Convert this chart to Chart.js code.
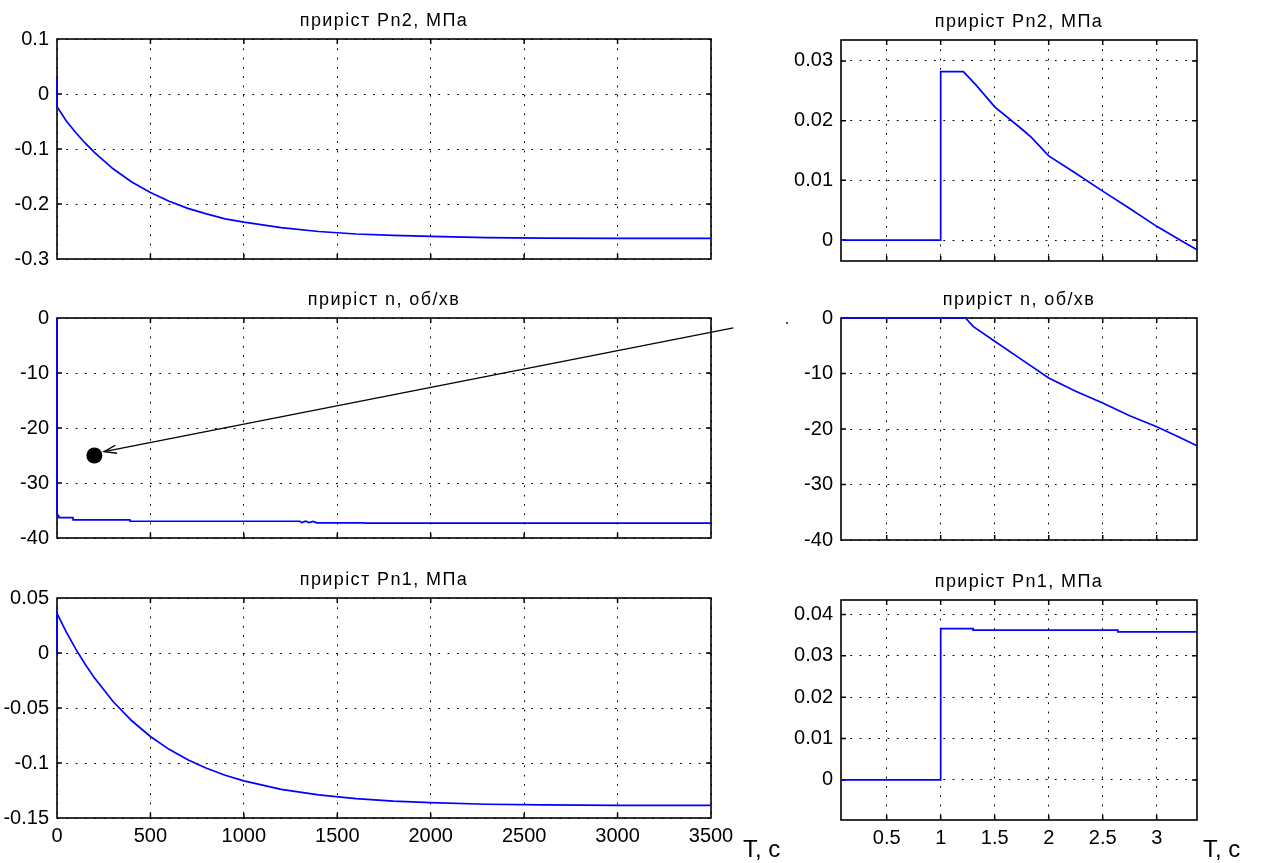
<!DOCTYPE html>
<html lang="uk">
<head>
<meta charset="utf-8">
<title>приріст Pn2, n, Pn1</title>
<script src="https://cdn.jsdelivr.net/npm/chart.js@4.4.1/dist/chart.umd.min.js"></script>
<style>
  html, body { margin: 0; padding: 0; background: #fff; }
  #page { position: relative; width: 1269px; height: 863px; overflow: hidden; background: #fff; }
  #page canvas { position: absolute; }
  .axis-name { position: absolute; font: 24px "Liberation Sans", Arial, sans-serif; line-height: 24px; color: #000; white-space: nowrap; }
  .speck { position: absolute; width: 2px; height: 2px; background: #555; }
</style>
</head>
<body>
<div id="page">
  <canvas id="pn2LongChart"></canvas>
  <canvas id="nLongChart"></canvas>
  <canvas id="pn1LongChart"></canvas>
  <canvas id="pn2ShortChart"></canvas>
  <canvas id="nShortChart"></canvas>
  <canvas id="pn1ShortChart"></canvas>
  <div class="axis-name" style="left:743px; top:837px">T, c</div>
  <div class="axis-name" style="left:1203px; top:837px">T, c</div>
  <div class="speck" style="left:786px; top:322px"></div>
</div>
<script>
  // --- long run (0..3500 s) ---
  const tLong = [0, 0, 50, 100, 150, 200, 300, 400, 500, 600, 700, 800, 900, 1000, 1200, 1400, 1600, 1800, 2000, 2300, 2600, 3000, 3500];
  const pn2Long = [0.03, -0.023, -0.049, -0.070, -0.089, -0.106, -0.136, -0.160, -0.179, -0.195, -0.208, -0.218, -0.227, -0.233, -0.243, -0.250, -0.2545, -0.257, -0.259, -0.261, -0.262, -0.2625, -0.2625];
  const pn1Long = [0, 0.036, 0.019, 0.0037, -0.010, -0.0226, -0.0441, -0.0616, -0.0759, -0.0876, -0.0971, -0.1048, -0.1111, -0.1163, -0.1239, -0.129, -0.1324, -0.1346, -0.136, -0.1375, -0.138, -0.1385, -0.1385];

  const tN = [0, 0, 8, 9, 85, 86, 390, 391, 1300, 1310, 1330, 1350, 1370, 1390, 1420, 1640, 1650, 3500];
  const nLong = [0, -35.7, -35.9, -36.3, -36.3, -36.7, -36.7, -36.95, -36.95, -37.2, -36.95, -37.2, -37.0, -37.25, -37.25, -37.25, -37.3, -37.3];

  // arrow and marker drawn on the n plot
  const arrowT = [3620, 252];
  const arrowN = [-1.8, -24.3];
  const markT = [200];
  const markN = [-25];

  // --- short run (first seconds) ---
  const tPn2Short = [0.077, 1.0, 1.0, 1.21, 1.33, 1.5, 1.75, 1.84, 2.0, 2.25, 2.5, 2.75, 3.0, 3.2, 3.373];
  const pn2Short = [0, 0, 0.0282, 0.0282, 0.0259, 0.0223, 0.0186, 0.0172, 0.0141, 0.0112, 0.0082, 0.0053, 0.0023, 0.0002, -0.0016];

  const tNShort = [0.077, 1.23, 1.3, 1.5, 1.75, 2.0, 2.25, 2.5, 2.75, 3.0, 3.2, 3.373];
  const nShort = [0, 0, -1.5, -4.2, -7.5, -10.8, -13.2, -15.3, -17.6, -19.6, -21.4, -23.0];

  const tPn1Short = [0.077, 1.0, 1.0, 1.3, 1.3, 2.64, 2.64, 3.373];
  const pn1Short = [0, 0, 0.0366, 0.0366, 0.0362, 0.0362, 0.0358, 0.0358];

  // --- tick labels ---
  const xTicksLong = [0, 500, 1000, 1500, 2000, 2500, 3000, 3500];
  const xTicksShort = [0.5, 1, 1.5, 2, 2.5, 3];
  const yTicksPn2Long = [-0.3, -0.2, -0.1, 0, 0.1];
  const yTicksN = [-40, -30, -20, -10, 0];
  const yTicksPn1Long = [-0.15, -0.1, -0.05, 0, 0.05];
  const yTicksPn2Short = [0, 0.01, 0.02, 0.03];
  const yTicksPn1Short = [0, 0.01, 0.02, 0.03, 0.04];

  const FONT = '"Liberation Sans", Arial, Helvetica, sans-serif';
  const BLUE = "#0000ff";

  function pts(xs, ys) {
    return xs.map((x, i) => ({ x, y: ys[i] }));
  }
  function fmt(v) {
    return String(Math.round(v * 10000) / 10000);
  }

  // title above each plot, centred on the plot area
  const panelTitle = {
    id: "panelTitle",
    afterDraw(chart, args, opts) {
      if (!opts.text) return;
      const { ctx, chartArea: a } = chart;
      ctx.save();
      ctx.font = "18px " + FONT;
      ctx.letterSpacing = "1.4px";
      ctx.fillStyle = "#000";
      ctx.textAlign = "center";
      ctx.textBaseline = "alphabetic";
      ctx.fillText(opts.text, (a.left + a.right) / 2, a.top - 13);
      ctx.restore();
    },
  };

  // box round the plot + small inward ticks on all four sides
  // (drawn under the curves, like the original, so the jumps at the edge stay visible)
  const matlabBox = {
    id: "matlabBox",
    beforeDatasetsDraw(chart) {
      const { ctx, chartArea: a, scales } = chart;
      ctx.save();
      ctx.strokeStyle = "#000";
      ctx.lineWidth = 1.5;
      ctx.beginPath();
      for (const t of scales.x.ticks) {
        const px = scales.x.getPixelForValue(t.value);
        if (px - a.left < 2 || a.right - px < 2) continue;
        ctx.moveTo(px, a.top); ctx.lineTo(px, a.top + 5);
        ctx.moveTo(px, a.bottom); ctx.lineTo(px, a.bottom - 5);
      }
      for (const t of scales.y.ticks) {
        const py = scales.y.getPixelForValue(t.value);
        if (py - a.top < 2 || a.bottom - py < 2) continue;
        ctx.moveTo(a.left, py); ctx.lineTo(a.left + 5, py);
        ctx.moveTo(a.right, py); ctx.lineTo(a.right - 5, py);
      }
      ctx.stroke();
      ctx.lineWidth = 1.6;
      ctx.strokeRect(a.left, a.top, a.width, a.height);
      ctx.restore();
    },
  };

  // open arrow head at the end of a line dataset
  const arrowHead = {
    id: "arrowHead",
    afterDatasetsDraw(chart, args, opts) {
      if (opts.dataset == null) return;
      const meta = chart.getDatasetMeta(opts.dataset);
      const [p0, p1] = meta.data;
      if (!p0 || !p1) return;
      const ang = Math.atan2(p1.y - p0.y, p1.x - p0.x);
      const len = 13, spread = 0.32;
      const { ctx } = chart;
      ctx.save();
      ctx.strokeStyle = "#000";
      ctx.lineWidth = 1.4;
      ctx.beginPath();
      ctx.moveTo(p1.x - len * Math.cos(ang - spread), p1.y - len * Math.sin(ang - spread));
      ctx.lineTo(p1.x, p1.y);
      ctx.lineTo(p1.x - len * Math.cos(ang + spread), p1.y - len * Math.sin(ang + spread));
      ctx.stroke();
      ctx.restore();
    },
  };

  function axis(min, max, tickVals, size, isX, show) {
    return {
      type: "linear",
      min,
      max,
      afterBuildTicks: (s) => { s.ticks = tickVals.map((v) => ({ value: v })); },
      afterFit: (s) => {
        if (isX) s.height = size; else s.width = size;
        s.paddingLeft = 0; s.paddingRight = 0; s.paddingTop = 0; s.paddingBottom = 0;
      },
      ticks: {
        display: show,
        color: "#000",
        font: { family: FONT, size: 20 },
        padding: isX ? 6 : 8,
        maxRotation: 0,
        autoSkip: false,
        callback: (v) => fmt(v),
      },
      grid: { color: "#000", lineWidth: 1, drawTicks: false },
      border: { display: false, dash: [1.8, 7.5] },
    };
  }

  // curves stay inside their ranges, so no clipping: the jumps at t = 0 sit on the left edge
  function blueLine(xs, ys) {
    return { data: pts(xs, ys), borderColor: BLUE, borderWidth: 1.7, pointRadius: 0, tension: 0, fill: false, clip: false };
  }

  // box: plot area in page pixels; yw: room for y labels; rp: room on the right
  function panel(id, box, title, xCfg, yCfg, datasets, extra) {
    const canvas = document.getElementById(id);
    const th = 39;
    const xh = xCfg.show ? 40 : 6;
    canvas.width = box.yw + box.w + box.rp;
    canvas.height = th + box.h + xh;
    canvas.style.left = (box.x - box.yw) + "px";
    canvas.style.top = (box.y - th) + "px";
    return new Chart(canvas, {
      type: "line",
      data: { datasets },
      options: {
        responsive: false,
        animation: false,
        events: [],
        layout: { padding: { top: th, right: box.rp, left: 0, bottom: 0 } },
        plugins: {
          legend: { display: false },
          tooltip: { enabled: false },
          title: { display: false },
          panelTitle: { text: title },
          arrowHead: extra || {},
        },
        scales: {
          x: axis(xCfg.min, xCfg.max, xCfg.ticks, xh, true, xCfg.show),
          y: axis(yCfg.min, yCfg.max, yCfg.ticks, box.yw, false, true),
        },
      },
      plugins: [panelTitle, matlabBox, arrowHead],
    });
  }

  const LEFT = { x: 57, w: 654, yw: 57, rp: 31 };
  const RIGHT = { x: 841, w: 356, yw: 70, rp: 12 };
  const xLong = { min: 0, max: 3500, ticks: xTicksLong };
  const xShort = { min: 0.077, max: 3.373, ticks: xTicksShort };

  panel("pn2LongChart", { ...LEFT, y: 39, h: 220 }, "приріст Pn2, МПа",
    { ...xLong, show: false }, { min: -0.3, max: 0.1, ticks: yTicksPn2Long },
    [blueLine(tLong, pn2Long)]);

  panel("nLongChart", { ...LEFT, y: 318, h: 222 }, "приріст n, об/хв",
    { ...xLong, show: false }, { min: -40, max: 0, ticks: yTicksN },
    [
      blueLine(tN, nLong),
      { data: pts(arrowT, arrowN), borderColor: "#000", borderWidth: 1.4, pointRadius: 0, tension: 0, clip: false },
      { data: pts(markT, markN), showLine: false, pointRadius: 8, pointBackgroundColor: "#000", pointBorderColor: "#000", pointBorderWidth: 0, clip: false },
    ],
    { dataset: 1 });

  panel("pn1LongChart", { ...LEFT, y: 598, h: 220 }, "приріст Pn1, МПа",
    { ...xLong, show: true }, { min: -0.15, max: 0.05, ticks: yTicksPn1Long },
    [blueLine(tLong, pn1Long)]);

  panel("pn2ShortChart", { ...RIGHT, y: 40, h: 221 }, "приріст Pn2, МПа",
    { ...xShort, show: false }, { min: -0.0035, max: 0.0335, ticks: yTicksPn2Short },
    [blueLine(tPn2Short, pn2Short)]);

  panel("nShortChart", { ...RIGHT, y: 318, h: 222 }, "приріст n, об/хв",
    { ...xShort, show: false }, { min: -40, max: 0, ticks: yTicksN },
    [blueLine(tNShort, nShort)]);

  panel("pn1ShortChart", { ...RIGHT, y: 600, h: 220 }, "приріст Pn1, МПа",
    { ...xShort, show: true }, { min: -0.0097, max: 0.0435, ticks: yTicksPn1Short },
    [blueLine(tPn1Short, pn1Short)]);
</script>
</body>
</html>
